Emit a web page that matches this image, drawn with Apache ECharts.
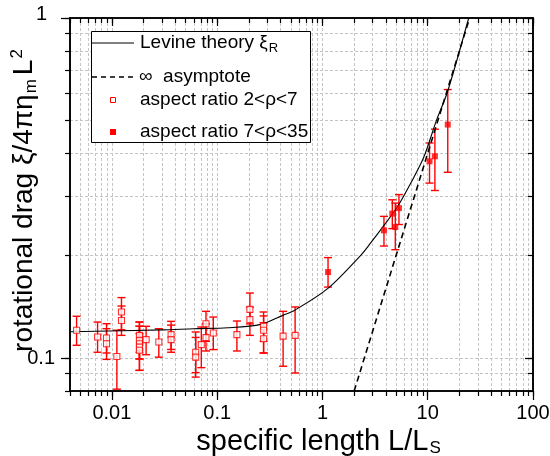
<!DOCTYPE html>
<html>
<head>
<meta charset="utf-8">
<script src="https://cdn.jsdelivr.net/npm/echarts@6/dist/echarts.min.js"></script>
<style>
  html, body { margin: 0; padding: 0; background: #fff; }
  #chart { width: 550px; height: 456px; }
</style>
</head>
<body>
<div id="chart"></div>
<script>
// axis ranges and tick labels (log-log)
var xRange = [0.004, 100];
var yRange = [0.08, 1];
var xTickValues = [0.01, 0.1, 1, 10, 100];
var xTickLabels = ['0.01', '0.1', '1', '10', '100'];
var yTickValues = [0.1, 1];
var yTickLabels = ['0.1', '1'];

// Levine theory curve
var levineX = [0.004, 0.03, 0.06, 0.126, 0.26, 0.42, 0.54, 1.12, 2.31, 2.87, 3.84, 5.14, 6.87, 9.19, 12.1, 15.5, 24.5];
var levineY = [0.1195, 0.121, 0.122, 0.1228, 0.1256, 0.1335, 0.138, 0.160, 0.2005, 0.218, 0.2456, 0.278, 0.326, 0.39, 0.5, 0.61, 1.0];

// infinity asymptote
var asymX = [2, 25];
var asymY = [0.08, 1];

// aspect ratio 2<rho<7 (open squares)
var openX    = [0.00462, 0.00731, 0.00889, 0.00889, 0.01115, 0.01233, 0.01233, 0.01827, 0.01827, 0.01827, 0.01827, 0.01827, 0.02114, 0.0279, 0.0365, 0.0365, 0.0625, 0.0625, 0.0707, 0.0783, 0.0783, 0.0919, 0.154, 0.2046, 0.2046, 0.276, 0.276, 0.276, 0.423, 0.55];
var openY    = [0.1207, 0.1153, 0.1145, 0.1102, 0.1011, 0.1366, 0.129, 0.1166, 0.1127, 0.1102, 0.1077, 0.1054, 0.1133, 0.1115, 0.1172, 0.1133, 0.104, 0.1006, 0.1095, 0.1262, 0.1148, 0.1185, 0.1172, 0.139, 0.1297, 0.124, 0.1207, 0.114, 0.116, 0.1166];
var openLow  = [0.109, 0.104, 0.1035, 0.0991, 0.081, 0.1212, 0.1166, 0.104, 0.0994, 0.092, 0.0994, 0.092, 0.1023, 0.1006, 0.106, 0.104, 0.0906, 0.0879, 0.0937, 0.112, 0.1049, 0.1059, 0.1049, 0.126, 0.1166, 0.112, 0.1035, 0.1035, 0.0946, 0.0904];
var openHigh = [0.1327, 0.1276, 0.1262, 0.122, 0.1207, 0.1506, 0.1422, 0.1276, 0.124, 0.1276, 0.118, 0.124, 0.124, 0.122, 0.1282, 0.125, 0.1193, 0.115, 0.1234, 0.1372, 0.126, 0.132, 0.1285, 0.1553, 0.141, 0.1366, 0.133, 0.127, 0.1372, 0.1413];

// aspect ratio 7<rho<35 (filled squares)
var fillX    = [1.13, 3.84, 4.61, 4.92, 5.33, 10.4, 11.7, 15.5];
var fillY    = [0.179, 0.2374, 0.266, 0.2428, 0.276, 0.379, 0.392, 0.486];
var fillLow  = [0.1617, 0.2135, 0.2402, 0.2083, 0.247, 0.327, 0.311, 0.3518];
var fillHigh = [0.1974, 0.261, 0.292, 0.2856, 0.3025, 0.429, 0.471, 0.616];

var lg = Math.log10;
var FONT = 'Liberation Sans, Arial, sans-serif';

// 1..9 x 10^n inside the range
function decadeTicks(r) {
  var out = [];
  for (var n = Math.floor(lg(r[0])); n <= Math.ceil(lg(r[1])); n++) {
    for (var k = 1; k <= 9; k++) {
      var v = k * Math.pow(10, n);
      if (v >= r[0] * 0.999 && v <= r[1] * 1.001) out.push(lg(v));
    }
  }
  return out;
}
function pickLabel(vals, labels, edgeStyle) {
  return function (v) {
    for (var i = 0; i < vals.length; i++) {
      if (Math.abs(lg(vals[i]) - v) < 1e-6) {
        // the last label sits a little off the tick in the original
        if (edgeStyle && i === vals.length - 1) return '{' + edgeStyle + '|' + labels[i] + '}';
        return labels[i];
      }
    }
    return '';
  };
}
function zipLog(xs, ys) {
  return xs.map(function (x, i) { return [lg(x), lg(ys[i])]; });
}
function errData(xs, lo, hi) {
  return xs.map(function (x, i) { return [lg(x), lg(lo[i]), lg(hi[i])]; });
}

var xMinor = decadeTicks(xRange), yMinor = decadeTicks(yRange);
var xMajor = xTickValues.map(lg), yMajor = yTickValues.map(lg);

function axis(kind, pos, ticks, len, inside, opts) {
  var r = kind === 'x' ? xRange : yRange;
  var a = {
    type: 'value', position: pos,
    min: lg(r[0]), max: lg(r[1]),
    axisLine: { show: true, onZero: false, lineStyle: { color: '#000', width: 1.6 } },
    axisTick: { show: true, inside: inside, length: len, customValues: ticks, lineStyle: { color: '#000', width: 1.2 } },
    axisLabel: { show: false },
    splitLine: { show: false }
  };
  return Object.assign(a, opts || {});
}
var gridLine = { show: true, lineStyle: { color: '#c4c4c4', type: [3, 2], width: 1 } };

var chart = echarts.init(document.getElementById('chart'));

function renderErr(params, api) {
  var top = api.coord([api.value(0), api.value(2)]);
  var bot = api.coord([api.value(0), api.value(1)]);
  var hw = 4;
  var st = { stroke: '#ff0000', lineWidth: 1.4 };
  return {
    type: 'group',
    children: [
      { type: 'line', shape: { x1: top[0], y1: top[1], x2: bot[0], y2: bot[1] }, style: st },
      { type: 'line', shape: { x1: top[0] - hw, y1: top[1], x2: top[0] + hw, y2: top[1] }, style: st },
      { type: 'line', shape: { x1: bot[0] - hw, y1: bot[1], x2: bot[0] + hw, y2: bot[1] }, style: st }
    ]
  };
}

chart.setOption({
  animation: false,
  grid: { left: 70, right: 17, top: 18, bottom: 65, outerBoundsMode: 'none' },
  xAxis: [
    axis('x', 'bottom', xMinor, 5, false, { splitLine: gridLine }),
    axis('x', 'bottom', xMajor, 9, false, {
      name: 'specific length L/L{s|S}',
      nameLocation: 'middle', nameGap: 35, nameMoveOverlap: false,
      nameTextStyle: {
        fontFamily: FONT, fontSize: 29, color: '#000', padding: [0, 0, 0, 34],
        rich: { s: { fontFamily: FONT, fontSize: 17, padding: [14, 0, 0, 1], verticalAlign: 'bottom', color: '#000' } }
      },
      axisLabel: { show: true, customValues: xMajor, margin: 12, fontFamily: FONT, fontSize: 20, color: '#000',
        formatter: pickLabel(xTickValues, xTickLabels) }
    }),
    axis('x', 'top', xMinor, 5, true),
    axis('x', 'top', xMajor, 8, true)
  ],
  yAxis: [
    axis('y', 'left', yMinor, 5, false, { splitLine: gridLine }),
    axis('y', 'left', yMajor, 9, false, {
      name: 'rotational drag ξ/4πη{sub|m}L{sup|2}',
      nameLocation: 'middle', nameGap: 30, nameRotate: 90, nameMoveOverlap: false,
      nameTextStyle: {
        fontFamily: FONT, fontSize: 28, color: '#000', padding: [0, 0, 0, 8],
        rich: {
          sub: { fontFamily: FONT, fontSize: 17, padding: [14, 4, 0, 1], verticalAlign: 'bottom', color: '#000' },
          sup: { fontFamily: FONT, fontSize: 17, padding: [0, 0, 14, 1], verticalAlign: 'top', color: '#000' }
        }
      },
      axisLabel: { show: true, customValues: yMajor, margin: 15, fontFamily: FONT, fontSize: 20, color: '#000',
        formatter: pickLabel(yTickValues, yTickLabels, 'edge'),
        rich: { edge: { fontFamily: FONT, fontSize: 20, color: '#000', padding: [0, 8, 8, 0] } } }
    }),
    axis('y', 'right', yMinor, 5, true),
    axis('y', 'right', yMajor, 8, true)
  ],
  series: [
    {
      name: 'err open', type: 'custom', renderItem: renderErr,
      encode: { x: 0, y: [1, 2] }, data: errData(openX, openLow, openHigh), z: 2
    },
    {
      name: 'err filled', type: 'custom', renderItem: renderErr,
      encode: { x: 0, y: [1, 2] }, data: errData(fillX, fillLow, fillHigh), z: 2
    },
    {
      name: 'Levine theory', type: 'line', smooth: 0.3, symbol: 'none',
      data: zipLog(levineX, levineY), lineStyle: { color: '#000', width: 1.1 }, z: 3
    },
    {
      name: 'asymptote', type: 'line', symbol: 'none',
      data: zipLog(asymX, asymY), lineStyle: { color: '#000', width: 1.6, type: [6, 4] }, z: 3
    },
    {
      name: 'aspect ratio 2<ρ<7', type: 'scatter', symbol: 'rect', symbolSize: 6,
      data: zipLog(openX, openY), itemStyle: { color: '#fff', borderColor: '#ff0000', borderWidth: 1.1 }, z: 4
    },
    {
      name: 'aspect ratio 7<ρ<35', type: 'scatter', symbol: 'rect', symbolSize: 6,
      data: zipLog(fillX, fillY), itemStyle: { color: '#ff0000' }, z: 4
    }
  ],
  graphic: [
    { type: 'rect', z: 100, shape: { x: 91.5, y: 31.5, width: 219, height: 111 }, style: { fill: '#fff', stroke: '#000', lineWidth: 1 } },
    { type: 'line', z: 101, shape: { x1: 92, y1: 43, x2: 134, y2: 43 }, style: { stroke: '#000', lineWidth: 1 } },
    { type: 'text', z: 101, x: 140, y: 43, style: {
      text: 'Levine theory ξ{s|R}', fontFamily: FONT, fontSize: 19, fill: '#000', verticalAlign: 'middle',
      rich: { s: { fontFamily: FONT, fontSize: 13, padding: [10, 0, 0, 1], verticalAlign: 'bottom', fill: '#000' } }
    } },
    { type: 'line', z: 101, shape: { x1: 92, y1: 77, x2: 134, y2: 77 }, style: { stroke: '#000', lineWidth: 1.3, lineDash: [5, 4] } },
    { type: 'text', z: 101, x: 139, y: 77, style: { text: '∞  asymptote', fontFamily: FONT, fontSize: 19, fill: '#000', verticalAlign: 'middle' } },
    { type: 'rect', z: 101, shape: { x: 110.5, y: 97.5, width: 5, height: 5 }, style: { fill: '#fff', stroke: '#ff0000', lineWidth: 1 } },
    { type: 'text', z: 101, x: 140, y: 100, style: { text: 'aspect ratio 2<ρ<7', fontFamily: FONT, fontSize: 19, fill: '#000', verticalAlign: 'middle' } },
    { type: 'rect', z: 101, shape: { x: 110, y: 129, width: 6, height: 6 }, style: { fill: '#ff0000' } },
    { type: 'text', z: 101, x: 140, y: 132, style: { text: 'aspect ratio 7<ρ<35', fontFamily: FONT, fontSize: 19, fill: '#000', verticalAlign: 'middle' } }
  ]
});

window.addEventListener('resize', function () {
  chart.resize();
});
</script>
</body>
</html>
